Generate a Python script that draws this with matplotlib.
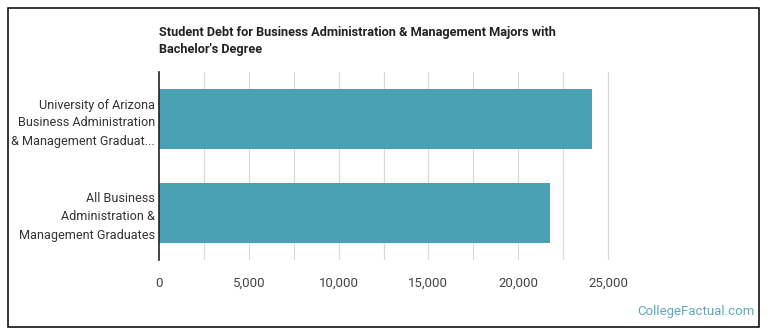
import matplotlib
matplotlib.use("Agg")
import matplotlib.pyplot as plt
from matplotlib.patches import Rectangle

plt.rcParams['font.family'] = ['Roboto', 'DejaVu Sans']

# data
categories = [
    "University of Arizona\nBusiness Administration\n& Management Graduat...",
    "All Business\nAdministration &\nManagement Graduates",
]
debt = [24100, 21750]
tick_values = [0, 5000, 10000, 15000, 20000, 25000]
grid_values = [2500 * i for i in range(1, 11)]

bar_color = "#4aa0b5"

fig = plt.figure(figsize=(7.7, 3.35), dpi=100)
ax = fig.add_axes([159 / 770, 75 / 335, 476 / 770, 188 / 335])

# bars, top one first
ypos = list(range(len(categories)))
ax.barh(ypos, debt, height=0.64, color=bar_color, zorder=2)
ax.set_ylim(len(categories) - 0.5, -0.5)
ax.set_xlim(0, 26500)

# grid every 2,500
for g in grid_values:
    ax.axvline(g, color="#d9d9d9", lw=0.9, zorder=1)

ax.set_yticks(ypos)
ax.set_yticklabels(categories, fontsize=9.1, color="#333333", linespacing=1.5)
ax.set_xticks(tick_values)
ax.set_xticklabels([f"{v:,}" for v in tick_values], fontsize=9.5, color="#444444")
ax.tick_params(axis="both", length=0)
ax.tick_params(axis="x", pad=12)
ax.tick_params(axis="y", pad=3)

for side in ["top", "right", "bottom"]:
    ax.spines[side].set_visible(False)
ax.spines["left"].set_color("#222222")
ax.spines["left"].set_linewidth(1.2)
ax.spines["left"].set_zorder(3)

# title
fig.text(159 / 770, 1 - 26 / 335,
         "Student Debt for Business Administration & Management Majors with\nBachelor's Degree",
         fontsize=9.15, fontweight="bold", color="#222222", va="top", ha="left",
         linespacing=1.45)

# watermark
fig.text(755 / 770, 1 - 312 / 335, "CollegeFactual.com", fontsize=9.5,
         color="#5aaabb", ha="right", va="center")

# outer frame
fig.patches.append(Rectangle((8 / 770, 8 / 335), 751 / 770, 319 / 335,
                             transform=fig.transFigure, fill=False,
                             edgecolor="black", lw=1.1))

fig.savefig("out.png", dpi=100)
